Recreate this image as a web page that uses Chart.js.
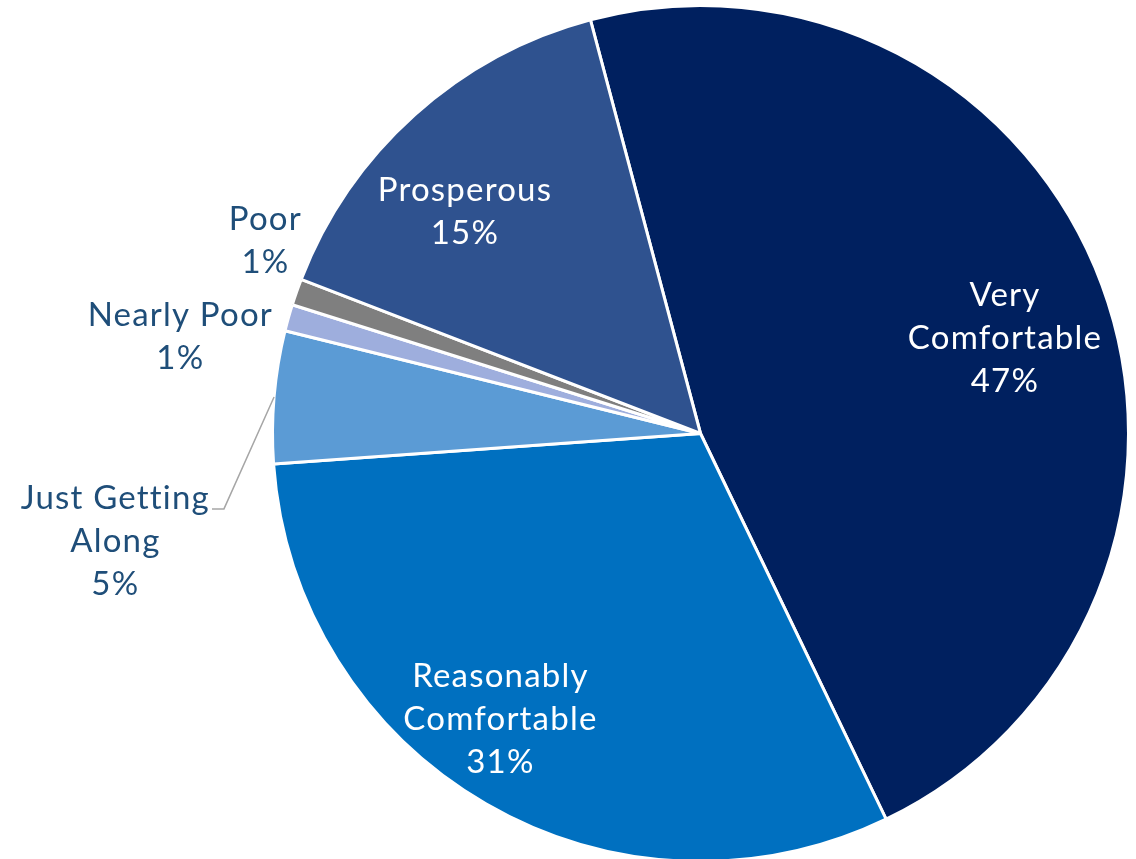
<!DOCTYPE html>
<html>
<head>
<meta charset="utf-8">
<script src="https://cdn.jsdelivr.net/npm/chart.js@4"></script>
<style>
  html, body { margin: 0; padding: 0; background: #ffffff; overflow: hidden; }
  #wrap { width: 1136px; height: 859px; position: relative; overflow: hidden; }
</style>
</head>
<body>
<div id="wrap"><canvas id="c" width="1136" height="870"></canvas></div>
<script>
// ---- data ----
const categories = ["Very Comfortable", "Reasonably Comfortable", "Just Getting Along", "Nearly Poor", "Poor", "Prosperous"];
const shares = [47, 31, 5, 1, 1, 15];
const labelLines = [["Very", "Comfortable"], ["Reasonably", "Comfortable"], ["Just Getting", "Along"], ["Nearly Poor"], ["Poor"], ["Prosperous"]];

// ---- styles ----
const sliceColors = ["#00205f", "#0070c0", "#5b9bd5", "#9eaedd", "#7f7f7f", "#2f528f"];
const labelColors = ["#ffffff", "#ffffff", "#1f4e79", "#1f4e79", "#1f4e79", "#ffffff"];
// polar placement of each label relative to its slice: angle offset (deg) from mid-angle, distance in radii
const labelPlacement = [
  { dAng: 3.0, dist: 0.745 },
  { dAng: 4.9, dist: 0.815 },
  { dAng: -15.3, dist: 1.39, leader: true },
  { dAng: -5.2, dist: 1.236 },
  { dAng: 4.6, dist: 1.112 },
  { dAng: -4.9, dist: 0.755 }
];
const FONT = '33px "Lato", "Open Sans", sans-serif';
const LETTER_SPACING = '1.2px';
const LINE_H = 43;

const labelPlugin = {
  id: 'sliceLabels',
  afterDatasetsDraw(chart) {
    const ctx = chart.ctx;
    const meta = chart.getDatasetMeta(0);
    ctx.save();
    ctx.font = FONT;
    if ('letterSpacing' in ctx) ctx.letterSpacing = LETTER_SPACING;
    ctx.textAlign = 'center';
    ctx.textBaseline = 'middle';
    meta.data.forEach((arc, i) => {
      const p = arc.getProps(['x', 'y', 'startAngle', 'endAngle', 'outerRadius'], true);
      const mid = (p.startAngle + p.endAngle) / 2;
      const pl = labelPlacement[i];
      const a = mid + pl.dAng * Math.PI / 180;
      const cx = p.x + Math.cos(a) * p.outerRadius * pl.dist;
      const cy = p.y + Math.sin(a) * p.outerRadius * pl.dist;
      const lines = labelLines[i].concat([shares[i] + "%"]);
      const y0 = cy - (lines.length - 1) * LINE_H / 2;
      ctx.fillStyle = labelColors[i];
      lines.forEach((t, k) => {
        ctx.fillText(t, cx, y0 + k * LINE_H);
      });
      if (pl.leader) {
        const w0 = ctx.measureText(lines[0]).width;
        const ex = p.x + Math.cos(mid) * p.outerRadius;
        const ey = p.y + Math.sin(mid) * p.outerRadius;
        const right = cx + w0 / 2 + 2;
        const ly = y0 + 11;
        ctx.strokeStyle = '#a6a6a6';
        ctx.lineWidth = 1.5;
        ctx.beginPath();
        ctx.moveTo(ex, ey);
        ctx.lineTo(right + 12, ly);
        ctx.lineTo(right, ly);
        ctx.stroke();
      }
    });
    ctx.restore();
  }
};

new Chart(document.getElementById('c'), {
  type: 'pie',
  data: {
    labels: categories,
    datasets: [{
      data: shares,
      backgroundColor: sliceColors,
      borderColor: '#ffffff',
      borderWidth: 3
    }]
  },
  options: {
    responsive: false,
    animation: false,
    rotation: -14.9,
    layout: { padding: { left: 271, right: 6, top: 4, bottom: 7 } },
    plugins: { legend: { display: false }, tooltip: { enabled: false } }
  },
  plugins: [labelPlugin]
});
</script>
</body>
</html>
